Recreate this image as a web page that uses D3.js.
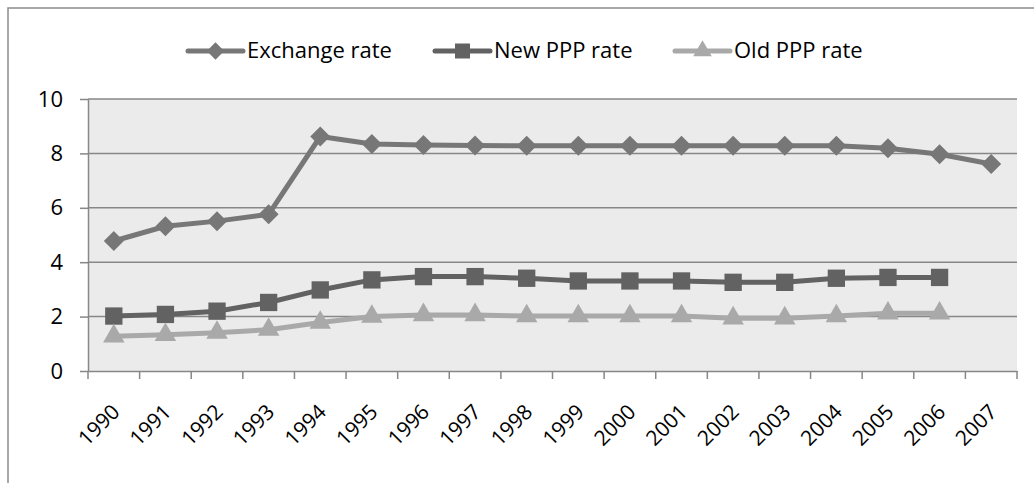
<!DOCTYPE html>
<html>
<head>
    <meta charset="utf-8">
    <title>Exchange rate and PPP rates</title>
    <script type="text/javascript" src="https://cdn.jsdelivr.net/npm/d3@7"></script>
    <style>
        body { margin: 0; background: #fff; }
        text { font-family: "Open Sans", sans-serif; fill: #000; }
        .grid line { stroke: #878787; stroke-width: 1.5px; }
        .axis path, .axis line { stroke: #878787; stroke-width: 1.5px; }
    </style>
</head>
<body>
<script type="text/javascript">
    var years = ["1990", "1991", "1992", "1993", "1994", "1995", "1996", "1997", "1998",
                 "1999", "2000", "2001", "2002", "2003", "2004", "2005", "2006", "2007"];
    var exchangeRate = [4.78, 5.32, 5.51, 5.76, 8.62, 8.35, 8.31, 8.29, 8.28,
                        8.28, 8.28, 8.28, 8.28, 8.28, 8.28, 8.19, 7.97, 7.61];
    var newPPP = [2.02, 2.08, 2.20, 2.52, 2.98, 3.35, 3.47, 3.47, 3.41,
                  3.31, 3.31, 3.31, 3.26, 3.26, 3.41, 3.44, 3.44];
    var oldPPP = [1.28, 1.33, 1.41, 1.52, 1.78, 2.00, 2.06, 2.06, 2.02,
                  2.02, 2.02, 2.02, 1.94, 1.94, 2.02, 2.12, 2.12];
    var seriesNames = ["Exchange rate", "New PPP rate", "Old PPP rate"];
    var yTicks = [0, 2, 4, 6, 8, 10];

    var width = 1034, height = 483;
    var margin = {top: 99, right: 17, bottom: 112, left: 88};
    var w = width - margin.left - margin.right,
        h = height - margin.top - margin.bottom;

    // square turned by 45 degrees, like the spreadsheet diamond marker
    var diamond = {
        draw: function (ctx, size) {
            var r = Math.sqrt(size / 2);
            ctx.moveTo(0, -r);
            ctx.lineTo(r, 0);
            ctx.lineTo(0, r);
            ctx.lineTo(-r, 0);
            ctx.closePath();
        }
    };

    var series = [
        {name: seriesNames[0], values: exchangeRate, color: "#777777", shape: diamond, size: 200},
        {name: seriesNames[1], values: newPPP, color: "#626262", shape: d3.symbolSquare, size: 300},
        {name: seriesNames[2], values: oldPPP, color: "#a9a9a9", shape: d3.symbolTriangle, size: 200}
    ];

    var svg = d3.select("body").append("svg")
        .attr("width", width)
        .attr("height", height);

    // outer chart frame
    svg.append("rect")
        .attr("x", 8).attr("y", 8)
        .attr("width", 1100).attr("height", 600)
        .attr("fill", "none")
        .attr("stroke", "#8c8c8c")
        .attr("stroke-width", 1.5);

    var g = svg.append("g")
        .attr("transform", "translate(" + margin.left + "," + margin.top + ")");

    var x = d3.scaleBand().domain(years).range([0, w]);
    var y = d3.scaleLinear().domain([0, 10]).range([h, 0]);

    g.append("rect")
        .attr("width", w).attr("height", h)
        .attr("fill", "#ebebeb");

    g.append("g").attr("class", "grid")
        .selectAll("line")
        .data(yTicks.slice(1))
        .enter().append("line")
        .attr("x1", 0).attr("x2", w)
        .attr("y1", function (d) { return y(d); })
        .attr("y2", function (d) { return y(d); });

    var yAxis = g.append("g").attr("class", "axis")
        .call(d3.axisLeft(y).tickValues(yTicks).tickSize(8).tickPadding(17).tickSizeOuter(0));
    yAxis.selectAll("text").style("font-size", "22px");

    var xAxis = g.append("g").attr("class", "axis")
        .attr("transform", "translate(0," + h + ")")
        .call(d3.axisBottom(x).tickSize(0).tickSizeOuter(0));
    xAxis.selectAll("text").remove();

    // tick marks on band edges
    var edges = d3.range(years.length + 1).map(function (i) { return i * x.bandwidth(); });
    xAxis.selectAll(".edge")
        .data(edges)
        .enter().append("line")
        .attr("class", "edge")
        .attr("x1", function (d) { return d; })
        .attr("x2", function (d) { return d; })
        .attr("y1", 0).attr("y2", 8);

    xAxis.selectAll(".lbl")
        .data(years)
        .enter().append("text")
        .attr("class", "lbl")
        .attr("text-anchor", "end")
        .style("font-size", "21px")
        .attr("transform", function (d) {
            return "translate(" + (x(d) + x.bandwidth() / 2 - 4) + ",31) rotate(-45)";
        })
        .attr("dy", "0.75em")
        .text(function (d) { return d; });

    var line = d3.line()
        .x(function (d, i) { return x(years[i]) + x.bandwidth() / 2; })
        .y(function (d) { return y(d); });

    series.forEach(function (s) {
        g.append("path")
            .datum(s.values)
            .attr("fill", "none")
            .attr("stroke", s.color)
            .attr("stroke-width", 5)
            .attr("d", line);

        g.selectAll(null)
            .data(s.values)
            .enter().append("path")
            .attr("fill", s.color)
            .attr("transform", function (d, i) {
                return "translate(" + (x(years[i]) + x.bandwidth() / 2) + "," + y(d) + ")";
            })
            .attr("d", d3.symbol().type(s.shape).size(s.size));
    });

    // legend
    var legendX = [188, 435, 675];
    var legend = svg.append("g");
    series.forEach(function (s, i) {
        var lg = legend.append("g").attr("transform", "translate(" + legendX[i] + ",51)");
        lg.append("line")
            .attr("x1", 0).attr("x2", 55)
            .attr("stroke", s.color).attr("stroke-width", 5)
            .attr("stroke-linecap", "round");
        lg.append("path")
            .attr("transform", "translate(27.5,0)")
            .attr("fill", s.color)
            .attr("d", d3.symbol().type(s.shape).size(s.size * 0.75));
        lg.append("text")
            .attr("x", 59).attr("y", 7)
            .style("font-size", "22px")
            .text(s.name);
    });
</script>
</body>
</html>
